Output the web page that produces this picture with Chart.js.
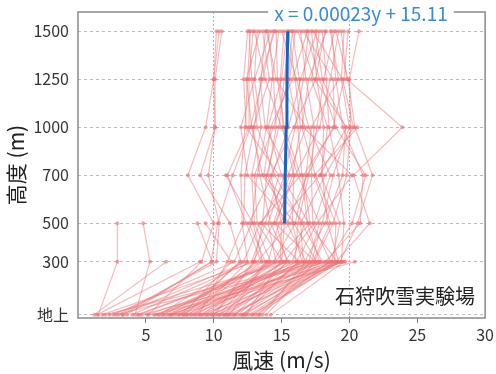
<!DOCTYPE html>
<html>
<head>
<meta charset="utf-8">
<script src="https://cdn.jsdelivr.net/npm/chart.js@4/dist/chart.umd.min.js"></script>
<style>
  html, body { margin: 0; padding: 0; background: #fff; }
</style>
</head>
<body>
<canvas id="chart" width="496" height="374"></canvas>
<script>
// height levels (axis position of each level and its label)
const levelLabels = ['地上', '300', '500', '700', '1000', '1250', '1500']
const levelPos = [0, 1.1, 1.9, 2.9, 3.9, 4.9, 5.9]
const xTicks = [5, 10, 15, 20, 25, 30]

// wind speed (m/s) of each sounding, one array per height level
const ground = [
  3.0, 5.2, 7.5, 6.8, 9.2, 10.5, 4.5, 8.0, 11.5, 12.3,
  13.1, 9.8, 7.2, 12.9, 5.6, 8.6, 10.1, 6.2, 11.0, 2.6,
  9.5, 12.0, 13.6, 8.3, 10.8, 7.8, 11.8, 12.6, 4.0, 9.0,
  13.9, 6.5, 10.3, 11.2, 8.9, 12.1, 5.9, 10.0, 13.3, 9.6,
  7.0, 11.4, 3.6, 12.4, 8.4, 10.7, 6.0, 12.8, 9.4, 11.6,
  8.1, 10.9, 1.5, 4.2, 3.3, 7.7, 1.2, 1.8, 2.3, 2.0,
  2.8, 3.3, 4.7, 5.1, 5.7, 6.3, 6.7, 7.4, 7.9, 8.7,
  9.1, 9.9, 10.4, 11.1, 12.2, 13.4, 14.2, 1.4, 4.4, 6.9
]
const h300 = [
  10.2, 9.1, 12.0, 13.5, 14.2, 15.5, 15.0, 16.5, 17.8, 18.6,
  19.2, 19.4, 18.2, 19.0, 17.4, 12.5, 13.0, 14.6, 16.0, 11.5,
  17.0, 18.0, 16.8, 15.2, 14.0, 13.2, 16.3, 18.9, 12.8, 15.8,
  17.5, 16.7, 18.4, 13.8, 11.0, 19.1, 14.4, 12.9, 17.2, 15.1,
  16.1, 18.7, 9.8, 14.9, 17.6, 16.6, 12.2, 19.3, 14.5, 15.4,
  13.6, 17.3, 2.9, 5.3, 9.9, 11.3, 6.5, 13.0, 15.6, 17.8,
  18.3, 12.4, 19.5, 16.9, 20.4, 14.1, 18.8, 19.7, 11.9, 15.3,
  19.0, 17.7, 13.9, 19.4, 16.2, 18.5, 19.6, 9.0, 14.8, 17.1
]
const h500 = [
  10.4, 10.0, 11.2, 12.4, 13.0, 14.2, 15.2, 15.8, 16.9, 17.3,
  18.4, 19.6, 20.8, 21.5, 18.8, 12.1, 13.6, 14.0, 16.2, 12.8,
  17.8, 16.5, 15.4, 17.4, 14.8, 15.6, 13.5, 19.0, 13.8, 16.7,
  14.5, 18.2, 20.2, 12.6, 12.2, 17.0, 16.0, 14.4, 18.0, 13.2,
  17.6, 19.3, 10.3, 15.0, 15.9, 16.4, 13.4, 20.6, 17.1, 14.6,
  12.9, 18.6, 2.9, 4.8, 8.8, 9.4
]
const h700 = [
  9.6, 8.1, 9.0, 11.0, 12.8, 13.4, 14.0, 15.9, 16.5, 17.2,
  18.0, 19.2, 21.0, 20.3, 19.8, 12.0, 13.9, 15.2, 17.0, 13.2,
  16.2, 14.5, 16.9, 18.6, 17.8, 12.5, 15.5, 17.5, 14.8, 13.7,
  16.0, 19.5, 21.2, 14.3, 12.3, 15.0, 16.8, 15.6, 18.8, 13.0,
  20.2, 17.9, 11.4, 14.2, 13.6, 18.2, 16.4, 21.7, 16.6, 15.8,
  10.9, 17.4
]
const h1000 = [
  10.1, 9.4, 10.1, 12.6, 13.5, 12.9, 14.6, 15.1, 16.2, 17.4,
  18.1, 18.5, 19.5, 23.9, 20.1, 12.3, 14.8, 16.0, 17.6, 13.9,
  15.0, 13.2, 18.8, 17.0, 19.8, 12.0, 16.8, 16.5, 12.4, 14.2,
  17.8, 19.7, 19.0, 15.5, 13.0, 14.0, 17.2, 13.8, 20.0, 14.4,
  16.6, 18.4, 12.7, 15.9, 12.8, 20.3, 15.2, 20.4, 18.9, 16.4,
  null, 20.6
]
const h1250 = [
  10.0, 10.0, 10.1, 12.6, 13.0, 14.1, 14.4, 14.9, 15.5, 16.8,
  17.6, 18.3, 19.0, 19.8, 20.0, 12.5, 15.2, 16.6, 18.1, 14.3,
  13.8, 12.8, 19.6, 16.1, 17.4, 13.0, 14.6, 17.0, 12.2, 15.8,
  18.6, 18.0, 17.8, 16.4, 13.5, 15.0, 19.2, 13.4, 19.4, 15.6,
  16.3, 17.2, 13.6, 17.5, 12.4, 19.5, 14.7, 19.9, 18.8, 16.0
]
const h1500 = [
  10.4, 10.2, 10.6, 12.9, 13.2, 13.6, 14.0, 15.2, 15.8, 16.4,
  17.2, 18.0, 18.7, 19.4, 20.7, 12.7, 15.6, 17.0, 18.9, 14.8,
  13.0, 12.6, 19.9, 15.0, 16.2, 14.2, 13.9, 18.3, 12.5, 16.9,
  19.2, 17.5, 16.8, 17.6, 13.8, 15.4, 18.6, 14.5, 19.6, 16.0,
  15.8, 17.8, 14.4, 18.2, 13.4, 17.3, 14.6, 19.0, 16.6, 15.5
]

// regression line shown in the title, fitted over 500-1500 m
const fitHeights = [500, 700, 1000, 1250, 1500]
const fitSlope = 0.00023
const fitIntercept = 15.11

const levels = [ground, h300, h500, h700, h1000, h1250, h1500]

const lineColor = 'rgba(238, 120, 124, 0.5)'
const pointColor = 'rgba(238, 110, 115, 0.6)'

const profileSets = ground.map((_, k) => {
  const pts = []
  levels.forEach((arr, i) => {
    const v = arr[k]
    if (v !== undefined && v !== null) pts.push({ x: v, y: levelPos[i] })
  })
  return {
    data: pts,
    borderColor: lineColor,
    backgroundColor: pointColor,
    borderWidth: 1.2,
    pointRadius: 2,
    pointBorderWidth: 0,
    showLine: true
  }
})

const fitSet = {
  data: fitHeights.map(h => ({
    x: fitSlope * h + fitIntercept,
    y: levelPos[levelLabels.indexOf(String(h))]
  })),
  borderColor: '#1565c0',
  borderWidth: 3,
  pointRadius: 0,
  showLine: true
}

const decor = {
  id: 'decor',
  afterDraw (chart) {
    const { ctx, chartArea: a } = chart
    ctx.save()
    ctx.strokeStyle = '#8a8a8a'
    ctx.lineWidth = 1.5
    ctx.strokeRect(a.left, a.top, a.right - a.left, a.bottom - a.top)

    const title = 'x = 0.00023y + 15.11'
    ctx.font = '19px "Noto Sans CJK JP", "Noto Sans", sans-serif'
    ctx.textAlign = 'center'
    ctx.textBaseline = 'middle'
    const w = ctx.measureText(title).width
    const cx = 361
    ctx.fillStyle = '#fff'
    ctx.fillRect(cx - w / 2 - 6, a.top - 4, w + 12, 8)
    ctx.fillStyle = '#3a8ad6'
    ctx.fillText(title, cx, a.top + 2)

    ctx.font = '20px "Noto Sans CJK JP", sans-serif'
    ctx.fillStyle = '#222'
    ctx.textAlign = 'right'
    ctx.fillText('石狩吹雪実験場', 475, 296)
    ctx.restore()
  }
}

const font = '"Noto Sans CJK JP", "Noto Sans", sans-serif'

new Chart(document.getElementById('chart'), {
  type: 'scatter',
  data: { datasets: [fitSet, ...profileSets] },
  options: {
    responsive: false,
    animation: false,
    layout: { padding: { top: 12, right: 8, left: 0, bottom: 0 } },
    plugins: {
      legend: { display: false },
      tooltip: { enabled: false }
    },
    scales: {
      x: {
        type: 'linear',
        min: 0,
        max: 30,
        afterBuildTicks: scale => { scale.ticks = [0, ...xTicks].map(v => ({ value: v })) },
        afterFit: scale => { scale.height = 56 },
        border: { display: false, dash: [2, 2] },
        grid: {
          color: c => (c.tick && (c.tick.value === 10 || c.tick.value === 20)) ? '#b5b5b5' : 'rgba(0,0,0,0)',
          tickColor: c => (c.tick && c.tick.value > 0 && c.tick.value < 30) ? '#777' : 'rgba(0,0,0,0)',
          tickLength: 5,
          lineWidth: 1
        },
        ticks: {
          color: '#333',
          font: { family: font, size: 16 },
          padding: 2,
          maxRotation: 0,
          callback: v => v === 0 ? '' : String(v)
        },
        title: {
          display: true,
          text: '風速 (m/s)',
          color: '#222',
          font: { family: font, size: 21 },
          padding: { top: 0, bottom: 1 }
        }
      },
      y: {
        type: 'linear',
        min: -0.07,
        max: 6.3,
        afterBuildTicks: scale => { scale.ticks = levelPos.map(v => ({ value: v })) },
        afterFit: scale => {
          scale.width = 78
          scale.paddingTop = 0
          scale.paddingBottom = 0
        },
        border: { display: false, dash: [3, 3] },
        grid: {
          color: '#bdbdbd',
          drawTicks: false,
          lineWidth: 1
        },
        ticks: {
          color: '#333',
          font: { family: font, size: 16 },
          padding: 9,
          callback: v => levelLabels[levelPos.indexOf(v)]
        },
        title: {
          display: true,
          text: '高度 (m)',
          color: '#222',
          font: { family: font, size: 21 },
          padding: { top: 3, bottom: 0 }
        }
      }
    }
  },
  plugins: [decor]
})
</script>
</body>
</html>
